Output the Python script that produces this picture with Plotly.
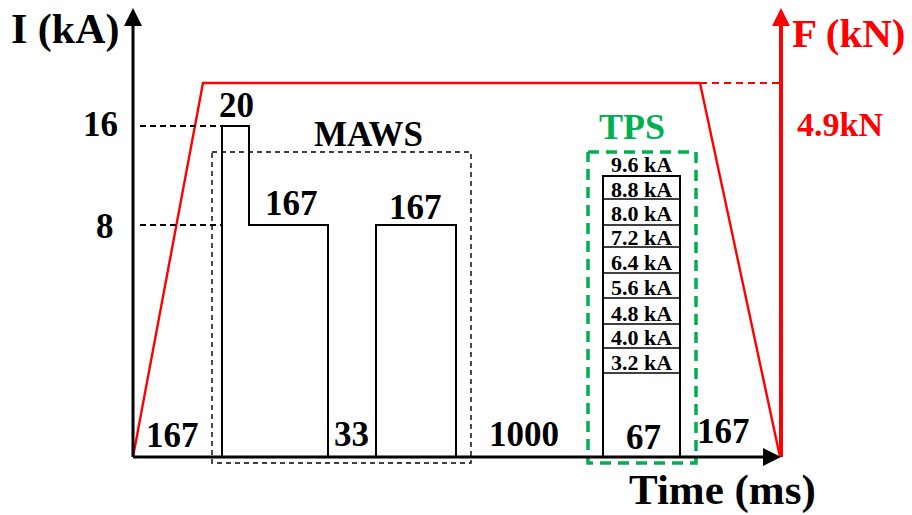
import plotly.graph_objects as go

# ---- waveform values -------------------------------------------------------
current_ticks_ka = [16, 8]                       # labelled current levels
phase_labels_ms = ["167", "20", "167", "33", "167", "1000", "67", "167"]
tps_steps_ka = ["9.6 kA", "8.8 kA", "8.0 kA", "7.2 kA", "6.4 kA",
                "5.6 kA", "4.8 kA", "4.0 kA", "3.2 kA"]
force_label = "4.9kN"

# ---- schematic drawing scale (canvas units, y grows downward) -------------
W, H = 912, 515
x0, y0 = 133, 457            # origin of the time / current axes
x_end = 780                  # end of time axis, position of force axis
y_top = 8                    # tip of the vertical axes
level_y = {0: y0, 8: 225, 16: 126}     # schematic current heights
force_y = 83

# time breakpoints along the schematic axis
t_ramp_up = 203
t_p1_on, t_p1_step, t_p1_off = 222, 249, 328
t_p2_on, t_p2_off = 376, 456
t_tps_on, t_tps_off = 603, 680
t_ramp_down = 700
tps_line_y = [176, 199, 225, 247, 273, 298, 324, 348, 373]

RED = "#FF0000"
GREEN = "#00B050"
FONT = "Liberation Serif, Times New Roman, serif"

fig = go.Figure()


def line(xs, ys, color="black", width=2, dash=None):
    fig.add_trace(go.Scatter(x=xs, y=ys, mode="lines", hoverinfo="skip",
                             line=dict(color=color, width=width, dash=dash)))


# force profile (red trapezoid)
line([x0, t_ramp_up, t_ramp_down], [y0, force_y, force_y], RED, 2.4)
line([t_ramp_down, x_end], [force_y, force_y], RED, 2, "7px,5px")
line([t_ramp_down, x_end], [force_y, y0], RED, 2.4)

# MAWS current pulses
line([t_p1_on, t_p1_on, t_p1_step, t_p1_step, t_p1_off, t_p1_off],
     [y0, level_y[16], level_y[16], level_y[8], level_y[8], y0], "black", 2)
line([t_p2_on, t_p2_on, t_p2_off, t_p2_off],
     [y0, level_y[8], level_y[8], y0], "black", 2)

# level guide lines from the current axis
for lv in current_ticks_ka:
    line([x0 + 7, t_p1_on], [level_y[lv], level_y[lv]], "black", 1.8, "6px,4px")

# TPS staircase block
line([t_tps_on, t_tps_on, t_tps_off, t_tps_off],
     [y0, tps_line_y[0], tps_line_y[0], y0], "black", 2)
for yy in tps_line_y[1:]:
    line([t_tps_on, t_tps_off], [yy, yy], "black", 1.5)

# MAWS dashed frame
line([212, 471, 471, 212, 212], [152, 152, 463, 463, 152], "black", 1.4, "5px,4px")
# TPS dashed frame
line([588, 696, 696, 588, 588], [152, 152, 463, 463, 152], GREEN, 3.5, "11px,7px")

# axes
line([x0, x0], [y0, y_top + 8], "black", 3)
line([x0, x_end - 8], [y0, y0], "black", 3)
line([x_end + 1, x_end + 1], [y0, y_top + 8], RED, 4)

arrows = [
    (x0, y_top, x0, y_top + 14, "black"),
    (x_end + 1, y_top, x_end + 1, y_top + 14, RED),
    (x_end + 1, y0, x_end - 13, y0, "black"),
]
for ax_, ay_, bx, by, c in arrows:
    fig.add_annotation(x=ax_, y=ay_, ax=bx, ay=by, xref="x", yref="y",
                       axref="x", ayref="y", text="", showarrow=True,
                       arrowhead=2, arrowsize=1.2, arrowwidth=3, arrowcolor=c)


def text(x, y, s, size, color="black", xanchor="center"):
    fig.add_annotation(x=x, y=y, text="<b>%s</b>" % s, showarrow=False,
                       xref="x", yref="y", xanchor=xanchor, yanchor="middle",
                       font=dict(family=FONT, size=size, color=color))


text(65, 29, "I (kA)", 42)
text(849, 33, "F (kN)", 41, RED)
text(722, 490, "Time (ms)", 43)
text(840, 124, force_label, 34, RED)
text(100, 124, str(current_ticks_ka[0]), 35)
text(105, 226, str(current_ticks_ka[1]), 35)
text(368, 134, "MAWS", 35)
text(632, 127, "TPS", 36, GREEN)

label_pos = [(172, 435), (236, 105), (291, 203), (351, 434), (415, 207),
             (524, 434), (643, 437), (723, 431)]
for (lx, ly), s in zip(label_pos, phase_labels_ms):
    text(lx, ly, s, 35)

tps_label_y = [164, 189, 213, 237, 262, 287, 313, 337, 362]
for ly, s in zip(tps_label_y, tps_steps_ka):
    text((t_tps_on + t_tps_off) / 2, ly, s, 22)

fig.update_layout(
    width=W, height=H, margin=dict(l=0, r=0, t=0, b=0),
    paper_bgcolor="white", plot_bgcolor="white", showlegend=False,
    xaxis=dict(range=[0, W], visible=False, fixedrange=True),
    yaxis=dict(range=[H, 0], visible=False, fixedrange=True),
)
fig.write_html("out.html")
